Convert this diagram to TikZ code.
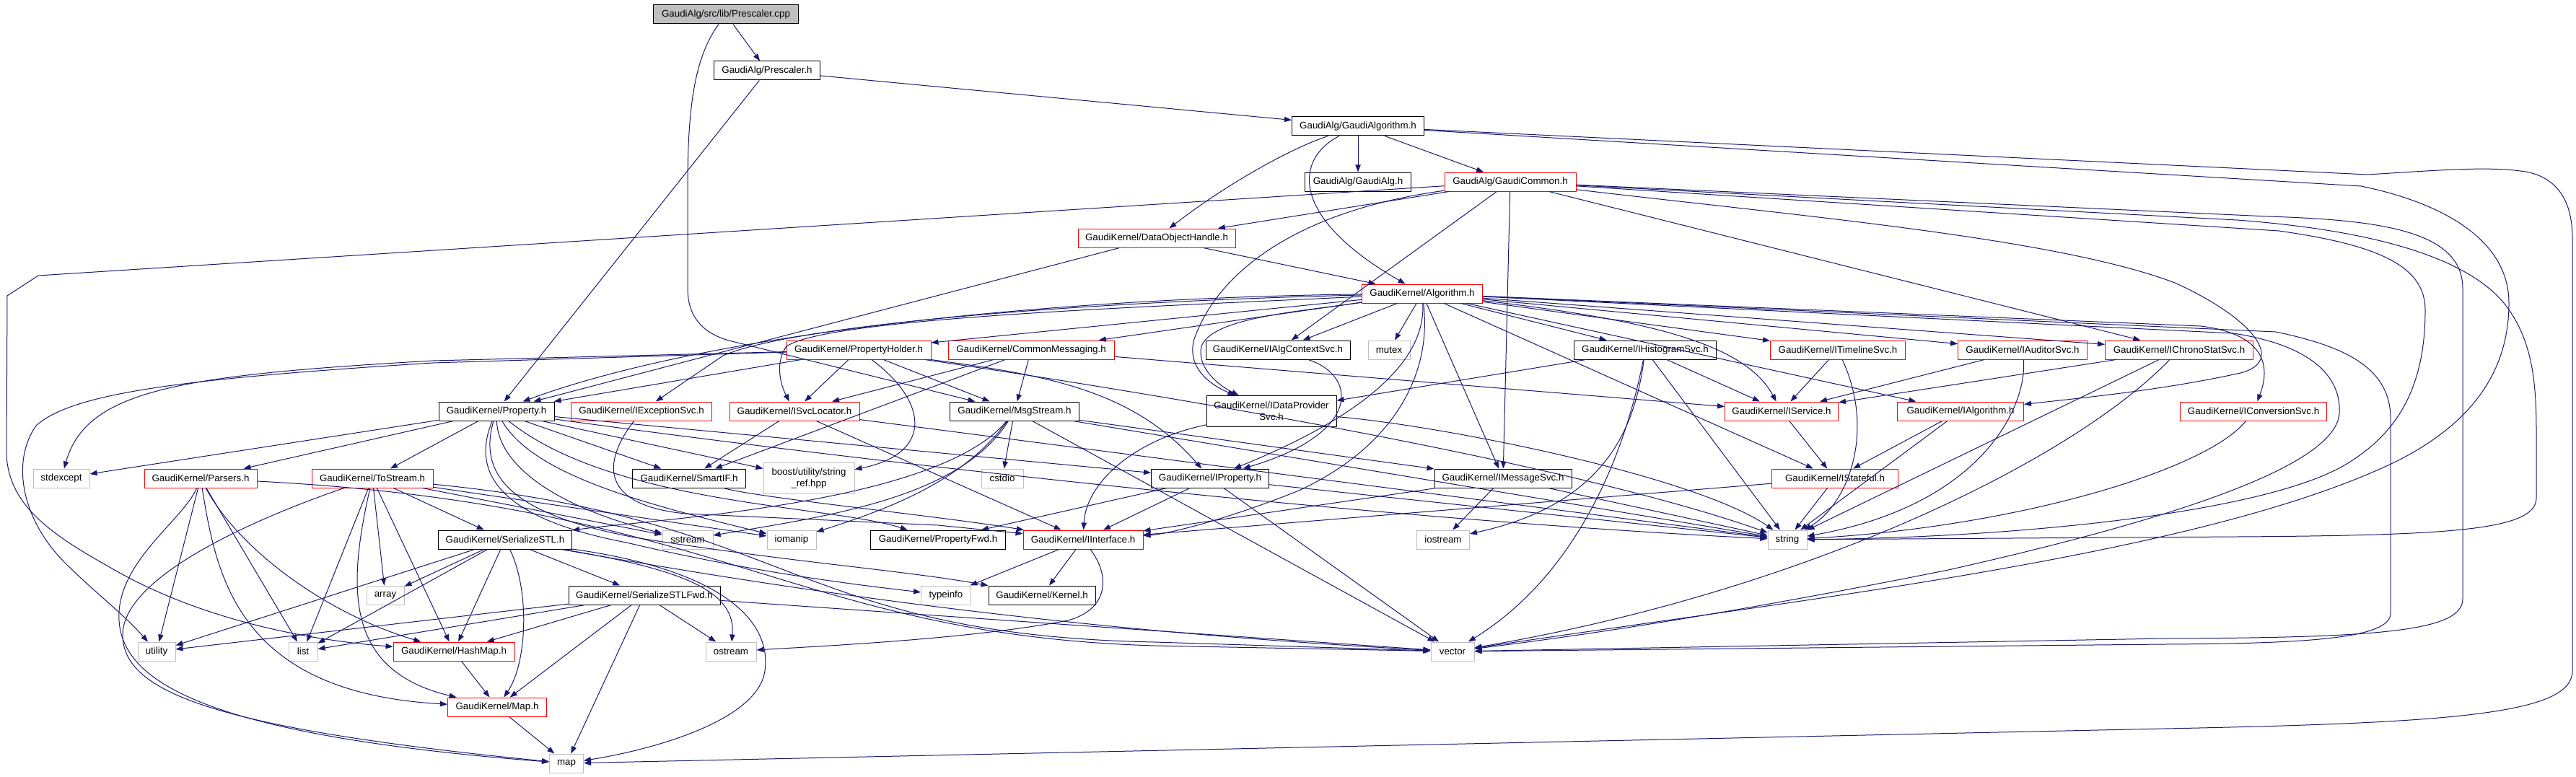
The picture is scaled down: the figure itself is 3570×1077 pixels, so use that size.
\documentclass[tikz,border=0pt]{standalone}
\usepackage{fontspec}
\setmainfont{Liberation Sans}
\usetikzlibrary{arrows.meta}
\definecolor{edgec}{HTML}{191970}
\definecolor{gbord}{HTML}{BFBFBF}
\begin{document}
\begin{tikzpicture}[x=0.75pt,y=-0.75pt,
  nd/.style={rectangle, inner sep=0pt, minimum height=19.5pt, line width=0.75pt, font=\fontsize{10}{12}\selectfont, align=center},
  bk/.style={nd, draw=black},
  rn/.style={nd, draw=red},
  gn/.style={nd, draw=gbord},
  tall/.style={minimum height=32.25pt},
  wd/.style={minimum width=#1*0.75pt},
  ed/.style={draw=edgec, line width=0.75pt, -{Triangle[length=7.5pt,width=5.5pt]}}]
\useasboundingbox (0,0) rectangle (3570,1077);
% ---------- nodes ----------
\node[bk, fill=gbord, wd=201] (pcpp) at (1006,20) {GaudiAlg/src/lib/Prescaler.cpp};
\node[bk, wd=147] (ph) at (1063,98) {GaudiAlg/Prescaler.h};
\node[bk, wd=183] (galgo) at (1882,175) {GaudiAlg/GaudiAlgorithm.h};
\node[bk, wd=147] (galg) at (1882,252) {GaudiAlg/GaudiAlg.h};
\node[rn, wd=182] (gcom) at (2093,252) {GaudiAlg/GaudiCommon.h};
\node[rn, wd=218] (doh) at (1603,330) {GaudiKernel/DataObjectHandle.h};
\node[rn, wd=167] (algo) at (1971,407) {GaudiKernel/Algorithm.h};
\node[rn, wd=200] (pholder) at (1190,485) {GaudiKernel/PropertyHolder.h};
\node[rn, wd=230] (cmsg) at (1429,485) {GaudiKernel/CommonMessaging.h};
\node[bk, wd=200] (ialgctx) at (1771,485) {GaudiKernel/IAlgContextSvc.h};
\node[gn, wd=58] (mutex) at (1925,485) {mutex};
\node[bk, wd=197] (ihist) at (2280,485) {GaudiKernel/IHistogramSvc.h};
\node[rn, wd=187] (itimeline) at (2547,485) {GaudiKernel/ITimelineSvc.h};
\node[rn, wd=179] (iauditor) at (2803,485) {GaudiKernel/IAuditorSvc.h};
\node[rn, wd=205] (ichrono) at (3020,485) {GaudiKernel/IChronoStatSvc.h};
\node[bk, wd=160] (prop) at (688,570) {GaudiKernel/Property.h};
\node[rn, wd=195] (iexc) at (889,570) {GaudiKernel/IExceptionSvc.h};
\node[rn, wd=180] (isvcloc) at (1101,570) {GaudiKernel/ISvcLocator.h};
\node[bk, wd=179] (msgstream) at (1406,570) {GaudiKernel/MsgStream.h};
\node[bk, wd=180, tall] (idataprov) at (1762,570) {GaudiKernel/IDataProvider\\Svc.h};
\node[rn, wd=157] (iservice) at (2469,570) {GaudiKernel/IService.h};
\node[rn, wd=175] (ialgorithm) at (2717,570) {GaudiKernel/IAlgorithm.h};
\node[rn, wd=203] (iconv) at (3123,570) {GaudiKernel/IConversionSvc.h};
\node[gn, wd=78] (stdexcept) at (85,663) {stdexcept};
\node[rn, wd=156] (parsers) at (278,663) {GaudiKernel/Parsers.h};
\node[rn, wd=168] (tostream) at (516,663) {GaudiKernel/ToStream.h};
\node[bk, wd=157] (smartif) at (955,663) {GaudiKernel/SmartIF.h};
\node[gn, wd=126, tall] (stringref) at (1121,663) {boost/utility/string\\\_ref.hpp};
\node[gn, wd=58] (cstdio) at (1389,663) {cstdio};
\node[bk, wd=163] (iprop) at (1677,663) {GaudiKernel/IProperty.h};
\node[bk, wd=190] (imsgsvc) at (2083,663) {GaudiKernel/IMessageSvc.h};
\node[rn, wd=175] (istateful) at (2543,663) {GaudiKernel/IStateful.h};
\node[bk, wd=185] (serstl) at (700,748) {GaudiKernel/SerializeSTL.h};
\node[gn, wd=70] (sstream) at (953,748) {sstream};
\node[gn, wd=68] (iomanip) at (1097,748) {iomanip};
\node[bk, wd=187] (propfwd) at (1300,748) {GaudiKernel/PropertyFwd.h};
\node[rn, wd=166] (iinterface) at (1501,748) {GaudiKernel/IInterface.h};
\node[gn, wd=73] (iostream) at (2000,748) {iostream};
\node[gn, wd=54] (string) at (2477,748) {string};
\node[gn, wd=52] (array) at (534,825) {array};
\node[bk, wd=210] (serstlfwd) at (893,825) {GaudiKernel/SerializeSTLFwd.h};
\node[gn, wd=69] (typeinfo) at (1311,825) {typeinfo};
\node[bk, wd=148] (kernel) at (1444,825) {GaudiKernel/Kernel.h};
\node[gn, wd=52] (utility) at (217,903) {utility};
\node[gn, wd=40] (list) at (420,903) {list};
\node[rn, wd=168] (hashmap) at (629,903) {GaudiKernel/HashMap.h};
\node[gn, wd=70] (ostream) at (1013,903) {ostream};
\node[gn, wd=60] (vector) at (2013,903) {vector};
\node[rn, wd=137] (mapH) at (689,980) {GaudiKernel/Map.h};
\node[gn, wd=47] (map) at (785,1058) {map};
% ---------- edges ----------
% Prescaler.cpp
\draw[ed] (pcpp) -- (ph);
\draw[ed] (pcpp) .. controls (962,80) and (953,150) .. (953,260) -- (953,400) .. controls (953,440) and (975,462) .. (1010,472) -- (msgstream);
% Prescaler.h
\draw[ed] (ph) -- (galgo);
\draw[ed] (ph) -- (prop);
% GaudiAlgorithm.h
\draw[ed] (galgo) -- (galg);
\draw[ed] (galgo) -- (gcom);
\draw[ed] (galgo) .. controls (1790,205) and (1700,255) .. (doh);
\draw[ed] (galgo) .. controls (1795,220) and (1785,300) .. (algo);
\draw[ed] (galgo) -- (3281,242) .. controls (3380,236) and (3450,230) .. (3500,238) .. controls (3545,246) and (3565,280) .. (3565,330) -- (3565,930) .. controls (3565,990) and (3400,1002) .. (3000,1010) -- (map);
\draw[ed] (galgo) -- (3272,258) .. controls (3380,280) and (3477,330) .. (3477,420) .. controls (3477,520) and (3420,590) .. (3320,640) .. controls (3050,770) and (2500,830) .. (vector);
% GaudiCommon.h
\draw[ed] (gcom) -- (doh);
\draw[ed] (gcom) -- (imsgsvc);
\draw[ed] (gcom) -- (53,382) -- (10,410) -- (9,630) .. controls (12,700) and (70,740) .. (150,785) .. controls (260,850) and (400,885) .. (hashmap);
\draw[ed] (gcom) .. controls (1810,290) and (1690,370) .. (1655,470) .. controls (1645,505) and (1670,530) .. (idataprov);
\draw[ed] (gcom) -- (ialgctx);
\draw[ed] (gcom) -- (ichrono);
\draw[ed] (gcom) .. controls (2500,300) and (2850,330) .. (3014,392) .. controls (3120,440) and (3170,500) .. (3105,517) .. controls (3000,540) and (2900,550) .. (ialgorithm);
\draw[ed] (gcom) -- (3143,300) .. controls (3300,305) and (3413,320) .. (3413,400) -- (3413,830) .. controls (3413,875) and (3300,884) .. (3000,885) -- (vector);
\draw[ed] (gcom) -- (3100,305) .. controls (3300,320) and (3420,360) .. (3470,420) .. controls (3510,470) and (3515,530) .. (3515,600) -- (3515,690) .. controls (3515,735) and (3400,742) .. (3100,744) -- (string);
\draw[ed] (gcom) -- (3158,320) .. controls (3300,340) and (3361,370) .. (3361,430) .. controls (3361,540) and (3320,600) .. (3257,640) .. controls (3150,710) and (2800,745) .. (string);
% DataObjectHandle.h
\draw[ed] (doh) -- (algo);
\draw[ed] (doh) -- (prop);
% Algorithm.h
\draw[ed] (algo) -- (mutex);
\draw[ed] (algo) -- (ihist);
\draw[ed] (algo) -- (itimeline);
\draw[ed] (algo) -- (iauditor);
\draw[ed] (algo) -- (ichrono);
\draw[ed] (algo) -- (3050,452) .. controls (3130,462) and (3150,500) .. (iconv);
\draw[ed] (algo) .. controls (2300,445) and (2420,480) .. (iservice);
\draw[ed] (algo) -- (imsgsvc);
\draw[ed] (algo) -- (istateful);
\draw[ed] (algo) -- (ialgorithm);
\draw[ed] (algo) -- (ialgctx);
\draw[ed] (algo) .. controls (1800,432) and (1680,440) .. (1665,480) .. controls (1658,510) and (1690,535) .. (idataprov);
\draw[ed] (algo) -- (cmsg);
\draw[ed] (algo) -- (pholder);
\draw[ed] (algo) .. controls (1600,425) and (1150,440) .. (1090,480) .. controls (1075,500) and (1080,530) .. (isvcloc);
\draw[ed] (algo) .. controls (1500,418) and (1100,450) .. (1002,493) -- (iexc);
\draw[ed] (algo) .. controls (1500,412) and (1000,455) .. (prop);
\draw[ed] (algo) .. controls (1975,480) and (1930,560) .. (iprop);
\draw[ed] (algo) .. controls (1985,520) and (1930,620) .. (1800,680) .. controls (1700,720) and (1620,740) .. (iinterface);
\draw[ed] (algo) -- (3154,460) .. controls (3250,480) and (3313,510) .. (3313,580) -- (3313,850) .. controls (3313,885) and (3200,892) .. (3000,893) -- (vector);
\draw[ed] (algo) -- (3095,462) .. controls (3200,478) and (3245,520) .. (3242,573) .. controls (3238,630) and (3100,700) .. (2700,790) .. controls (2400,850) and (2200,880) .. (vector);
% PropertyHolder.h
\draw[ed] (pholder) -- (600,500) .. controls (250,520) and (120,540) .. (stdexcept);
\draw[ed] (pholder) -- (600,503) .. controls (250,525) and (100,545) .. (50,590) .. controls (15,640) and (30,720) .. (90,780) .. controls (130,820) and (170,850) .. (utility);
\draw[ed] (pholder) -- (prop);
\draw[ed] (pholder) -- (isvcloc);
\draw[ed] (pholder) -- (msgstream);
\draw[ed] (pholder) .. controls (1290,560) and (1290,630) .. (stringref);
\draw[ed] (pholder) .. controls (1450,520) and (1570,540) .. (iprop);
\draw[ed] (pholder) .. controls (1700,560) and (2200,650) .. (string);
% CommonMessaging.h
\draw[ed] (cmsg) -- (msgstream);
\draw[ed] (cmsg) -- (isvcloc);
\draw[ed] (cmsg) -- (smartif);
\draw[ed] (cmsg) -- (iservice);
% MsgStream.h
\draw[ed] (msgstream) -- (cstdio);
\draw[ed] (msgstream) -- (imsgsvc);
\draw[ed] (msgstream) .. controls (1300,700) and (900,720) .. (serstl);
\draw[ed] (msgstream) .. controls (1330,690) and (1150,715) .. (sstream);
\draw[ed] (msgstream) .. controls (1340,660) and (1250,700) .. (iomanip);
\draw[ed] (msgstream) -- (string);
\draw[ed] (msgstream) -- (vector);
% Property.h
\draw[ed] (prop) -- (stdexcept);
\draw[ed] (prop) -- (parsers);
\draw[ed] (prop) -- (tostream);
\draw[ed] (prop) -- (smartif);
\draw[ed] (prop) -- (stringref);
\draw[ed] (prop) -- (iprop);
\draw[ed] (prop) .. controls (850,700) and (1150,700) .. (propfwd);
\draw[ed] (prop) .. controls (690,640) and (760,700) .. (sstream);
\draw[ed] (prop) .. controls (740,660) and (900,700) .. (iomanip);
\draw[ed] (prop) .. controls (650,660) and (700,720) .. (868,752) .. controls (1050,795) and (1200,812) .. (typeinfo);
\draw[ed] (prop) .. controls (660,665) and (720,715) .. (880,745) .. controls (1100,780) and (1250,790) .. (kernel);
\draw[ed] (prop) .. controls (1200,640) and (1900,720) .. (string);
% ToStream.h
\draw[ed] (tostream) -- (serstl);
\draw[ed] (tostream) -- (array);
\draw[ed] (tostream) -- (list);
\draw[ed] (tostream) -- (hashmap);
\draw[ed] (tostream) .. controls (480,820) and (480,930) .. (mapH);
\draw[ed] (tostream) .. controls (350,720) and (170,800) .. (170,880) .. controls (170,960) and (300,1010) .. (map);
\draw[ed] (tostream) -- (iomanip);
\draw[ed] (tostream) -- (sstream);
\draw[ed] (tostream) .. controls (1100,720) and (1100,880) .. (1600,890) -- (vector);
% Parsers.h
\draw[ed] (parsers) -- (list);
\draw[ed] (parsers) .. controls (255,720) and (160,780) .. (165,860) .. controls (170,950) and (300,1020) .. (map);
\draw[ed] (parsers) .. controls (300,800) and (330,960) .. (mapH);
\draw[ed] (parsers) .. controls (330,760) and (450,850) .. (hashmap);
\draw[ed] (parsers) -- (utility);
\draw[ed] (parsers) .. controls (1000,700) and (1100,880) .. (1600,895) -- (vector);
% SerializeSTL.h
\draw[ed] (serstl) -- (serstlfwd);
\draw[ed] (serstl) -- (array);
\draw[ed] (serstl) -- (list);
\draw[ed] (serstl) -- (utility);
\draw[ed] (serstl) -- (hashmap);
\draw[ed] (serstl) .. controls (735,820) and (730,920) .. (mapH);
\draw[ed] (serstl) .. controls (1000,790) and (1070,860) .. (1060,930) .. controls (1050,1000) and (900,1040) .. (map);
\draw[ed] (serstl) .. controls (950,790) and (1020,820) .. (ostream);
\draw[ed] (serstl) .. controls (1000,800) and (1400,870) .. (vector);
% SerializeSTLFwd.h
\draw[ed] (serstlfwd) -- (list);
\draw[ed] (serstlfwd) -- (utility);
\draw[ed] (serstlfwd) -- (hashmap);
\draw[ed] (serstlfwd) -- (mapH);
\draw[ed] (serstlfwd) -- (map);
\draw[ed] (serstlfwd) -- (ostream);
\draw[ed] (serstlfwd) -- (vector);
% small ones
\draw[ed] (hashmap) -- (mapH);
\draw[ed] (mapH) -- (map);
\draw[ed] (iinterface) -- (typeinfo);
\draw[ed] (iinterface) -- (kernel);
\draw[ed] (iinterface) .. controls (1540,800) and (1535,845) .. (1480,860) .. controls (1350,885) and (1150,895) .. (ostream);
\draw[ed] (smartif) .. controls (1050,690) and (1300,715) .. (iinterface);
\draw[ed] (isvcloc) -- (smartif);
\draw[ed] (isvcloc) -- (string);
\draw[ed] (isvcloc) -- (iinterface);
\draw[ed] (iexc) .. controls (835,640) and (830,700) .. (950,712) -- (1300,728) -- (iinterface);
\draw[ed] (idataprov) .. controls (1570,610) and (1505,670) .. (iinterface);
\draw[ed] (idataprov) .. controls (2000,590) and (2350,660) .. (string);
\draw[ed] (ialgctx) .. controls (1880,520) and (1890,600) .. (iprop);
\draw[ed] (ihist) -- (iservice);
\draw[ed] (ihist) -- (string);
\draw[ed] (ihist) -- (idataprov);
\draw[ed] (ihist) .. controls (2265,600) and (2220,700) .. (iostream);
\draw[ed] (ihist) .. controls (2250,640) and (2180,800) .. (vector);
\draw[ed] (itimeline) -- (iservice);
\draw[ed] (itimeline) .. controls (2600,600) and (2560,700) .. (string);
\draw[ed] (iauditor) -- (iservice);
\draw[ed] (iauditor) .. controls (2810,560) and (2750,700) .. (string);
\draw[ed] (ichrono) -- (iservice);
\draw[ed] (ichrono) -- (string);
\draw[ed] (ichrono) .. controls (2870,640) and (2500,820) .. (vector);
\draw[ed] (iconv) .. controls (3060,650) and (2800,730) .. (string);
\draw[ed] (iservice) -- (istateful);
\draw[ed] (ialgorithm) -- (istateful);
\draw[ed] (ialgorithm) -- (string);
\draw[ed] (istateful) -- (string);
\draw[ed] (istateful) -- (iinterface);
\draw[ed] (imsgsvc) -- (iostream);
\draw[ed] (imsgsvc) -- (string);
\draw[ed] (imsgsvc) -- (iinterface);
\draw[ed] (iprop) -- (iinterface);
\draw[ed] (iprop) -- (string);
\draw[ed] (iprop) -- (vector);
\draw[ed] (iprop) -- (propfwd);
\end{tikzpicture}
\end{document}
